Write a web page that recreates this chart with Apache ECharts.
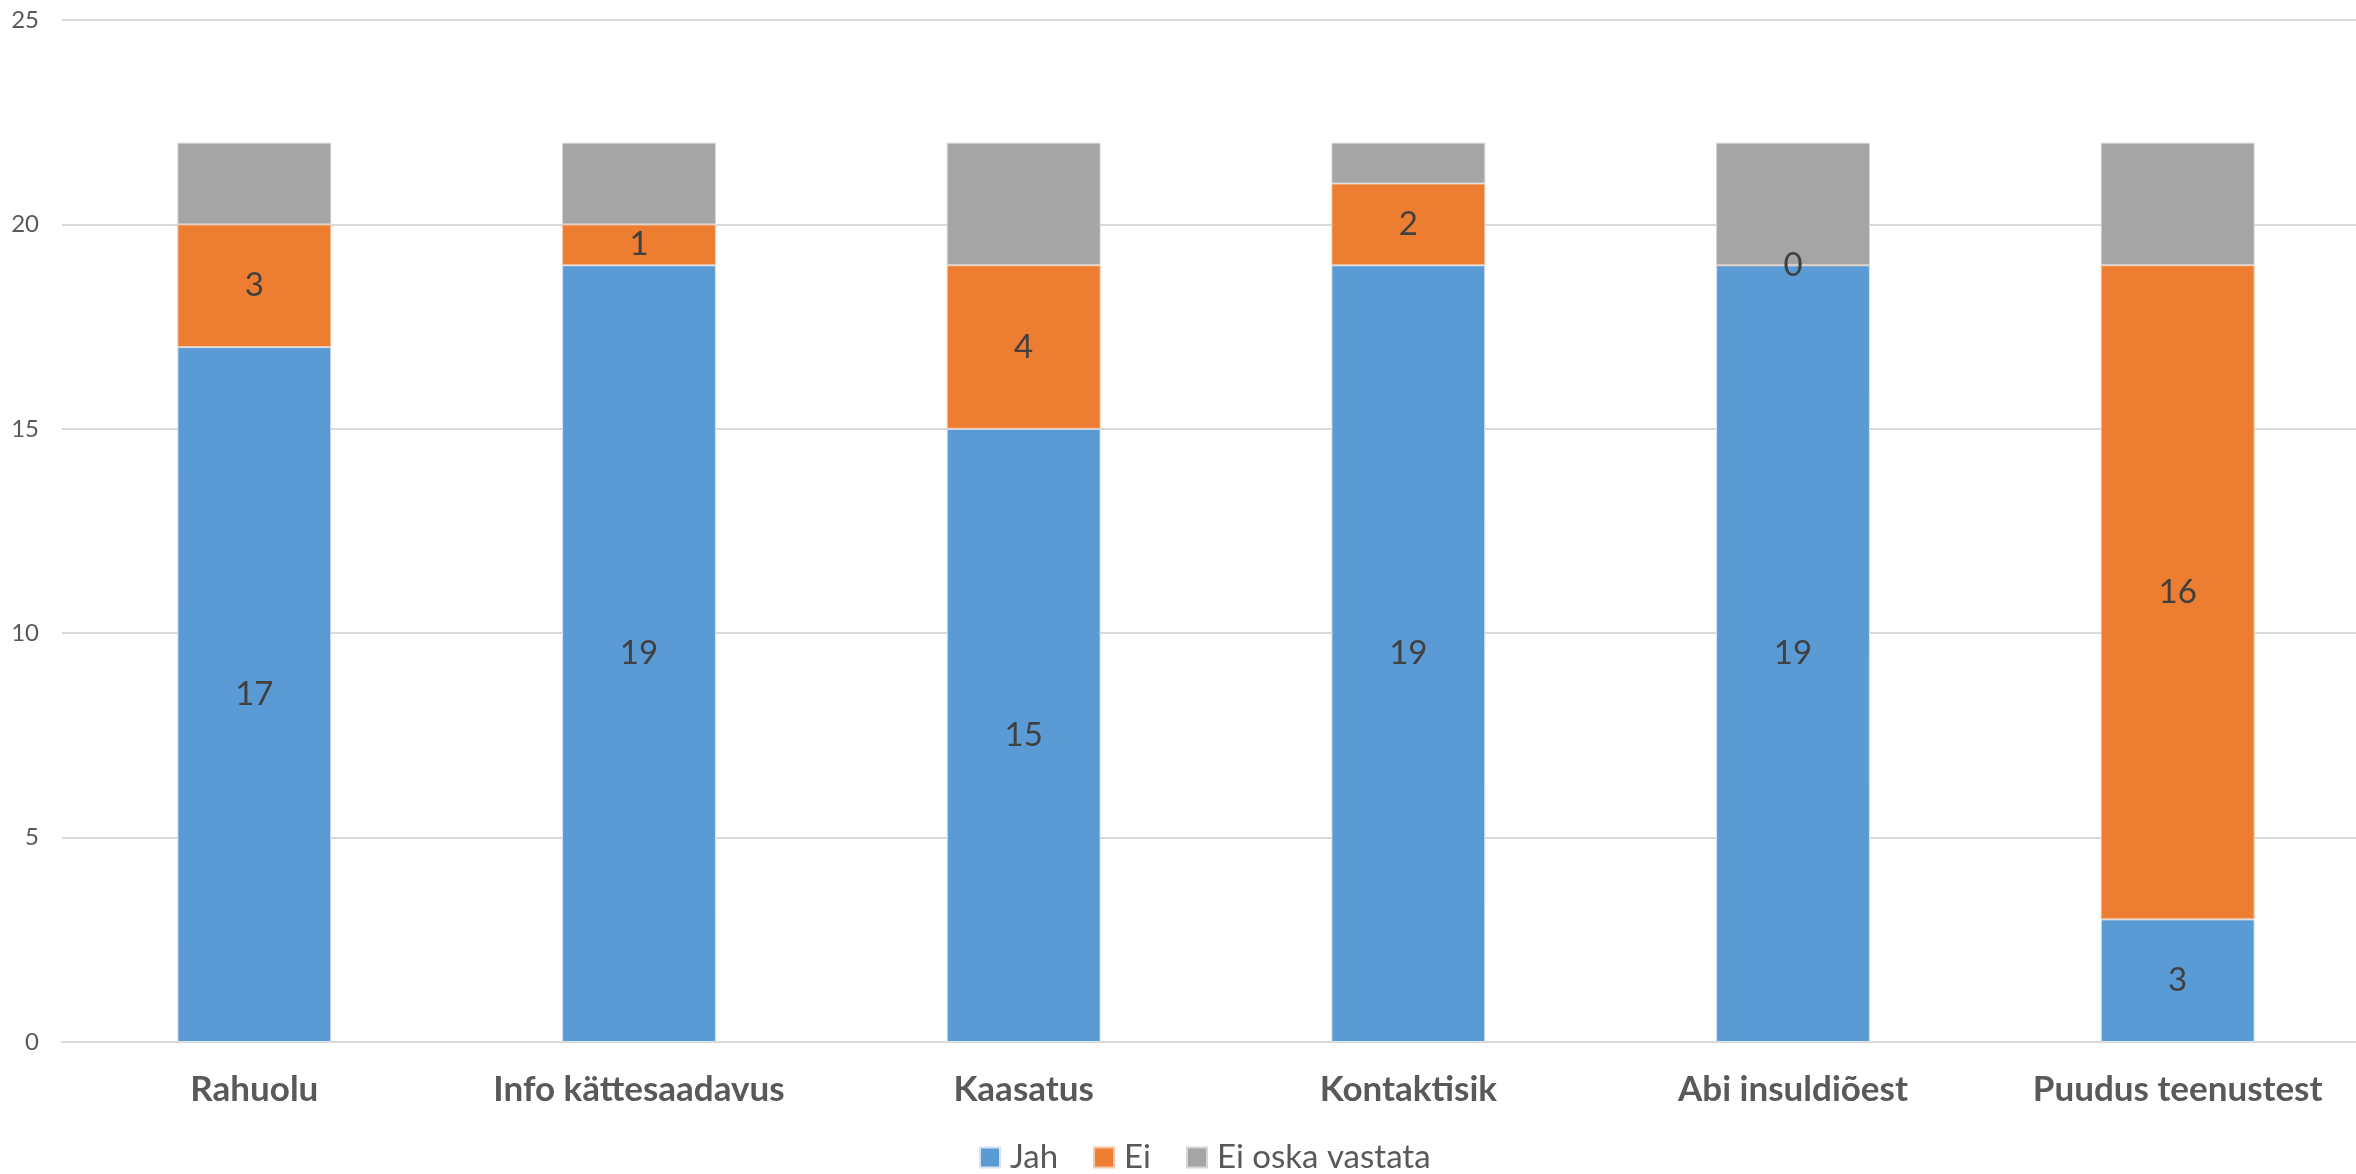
<!DOCTYPE html>
<html><head><meta charset="utf-8">
<script src="https://cdn.jsdelivr.net/npm/echarts@6/dist/echarts.min.js"></script>
<style>html,body{margin:0;padding:0;background:#fff}#c{width:2356px;height:1174px}</style>
</head><body><div id="c"></div>
<script>
const categories = ['Rahuolu', 'Info kättesaadavus', 'Kaasatus', 'Kontaktisik', 'Abi insuldiõest', 'Puudus teenustest'];
const jah = [17, 19, 15, 19, 19, 3];
const ei = [3, 1, 4, 2, 0, 16];
const eiOska = [2, 2, 3, 1, 3, 3];
const yTicks = [0, 5, 10, 15, 20, 25];

const chart = echarts.init(document.getElementById('c'));
const FONT = 'Lato';
const labelStyle = {show: true, position: 'inside', color: '#404040', fontSize: 33, fontFamily: FONT};
chart.setOption({
  animation: false,
  grid: {left: 62, width: 2308, top: 20, bottom: 132, outerBoundsMode: 'none', containLabel: false},
  legend: {
    bottom: 0, left: 979, padding: 0, itemWidth: 20, itemHeight: 20, itemGap: 35,
    icon: 'rect',
    textStyle: {color: '#595959', fontSize: 33, fontFamily: FONT, padding: [0, 0, 0, 5]},
    data: ['Jah', 'Ei', 'Ei oska vastata']
  },
  xAxis: {
    type: 'category', data: categories,
    axisLine: {lineStyle: {color: '#d9d9d9', width: 2}},
    axisTick: {show: false},
    axisLabel: {color: '#595959', fontSize: 35, fontWeight: 'bold', fontFamily: FONT, margin: 30}
  },
  yAxis: {
    type: 'value', min: yTicks[0], max: yTicks[yTicks.length - 1], interval: 5,
    axisLine: {show: false}, axisTick: {show: false},
    splitLine: {lineStyle: {color: '#d9d9d9', width: 2}},
    axisLabel: {color: '#595959', fontSize: 24, fontFamily: FONT, margin: 23}
  },
  series: [
    {name: 'Jah', type: 'bar', stack: 't', data: jah, barWidth: '40%',
     itemStyle: {color: '#5b9bd5', borderColor: '#d6e4f2', borderWidth: 1}, label: labelStyle},
    {name: 'Ei', type: 'bar', stack: 't', data: ei,
     itemStyle: {color: '#ed7d31', borderColor: '#f5c7a8', borderWidth: 1}, label: labelStyle},
    {name: 'Ei oska vastata', type: 'bar', stack: 't', data: eiOska,
     itemStyle: {color: '#a5a5a5', borderColor: '#d6d6d6', borderWidth: 1}, label: {show: false}}
  ]
});
</script></body></html>
